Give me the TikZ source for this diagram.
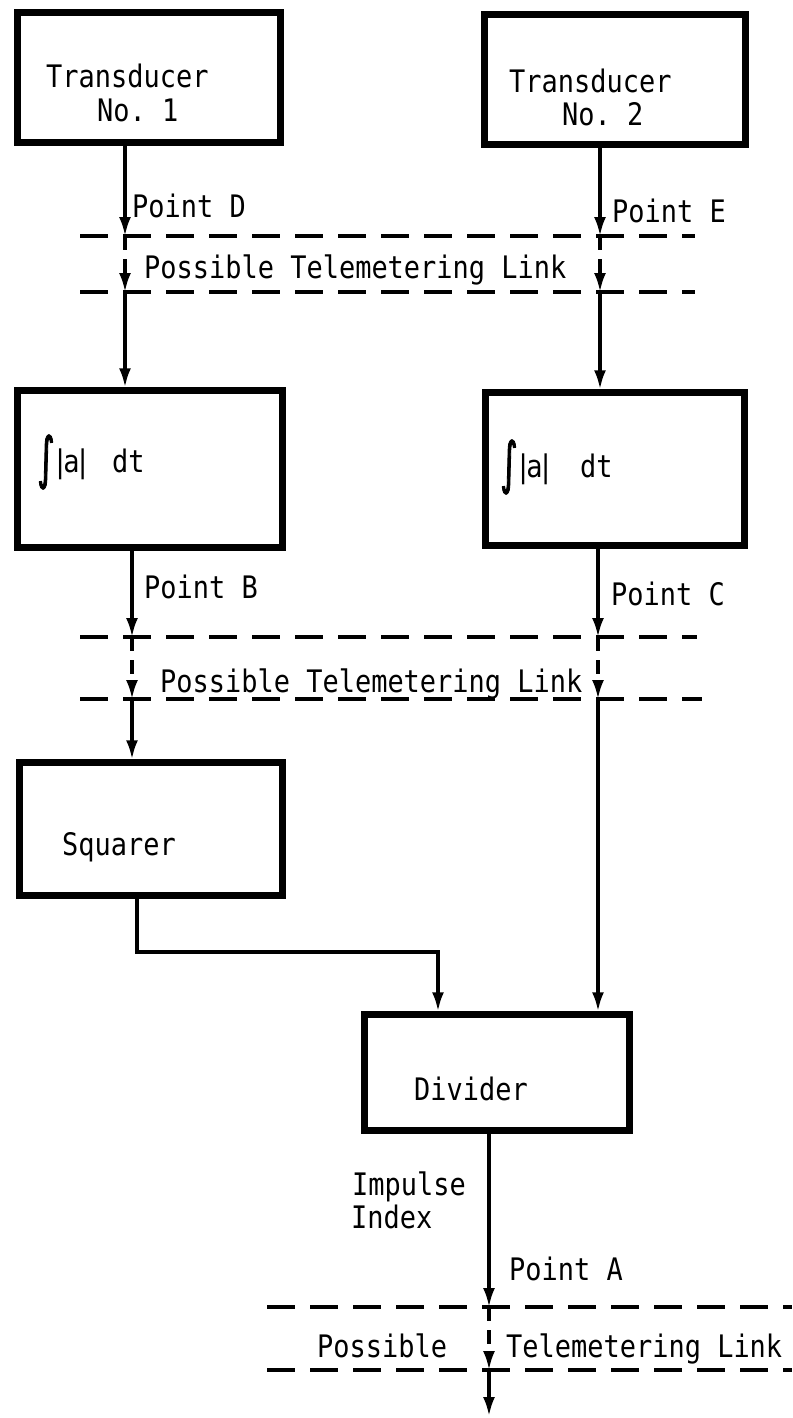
\documentclass[tikz,border=0pt]{standalone}
\usepackage{fontspec}
\usepackage{graphicx}
\setmonofont[FakeStretch=0.87]{DejaVu Sans Mono}
\newfontfamily\intfont[FakeBold=2.5]{DejaVu Sans}
\usetikzlibrary{arrows.meta}

\newcommand{\bigintegral}{\scalebox{1}[1.7]{\intfont\fontsize{33}{33}\selectfont ∫}}

\begin{document}
\begin{tikzpicture}[
  x=1pt, y={(0pt,-1pt)},
  box/.style={draw, line width=6.5pt, inner sep=0pt, fill=white},
  lbl/.style={anchor=base west, inner sep=0pt,
    font=\ttfamily\fontsize{31}{34}\selectfont},
  arr/.style={line width=3.2pt, -{Latex[length=19pt,width=12pt]}},
  link/.style={line width=3.5pt, dash pattern=on 28pt off 15pt},
  linkarr/.style={arr, dash pattern=on 14pt off 9pt},
]
\useasboundingbox (0,0) rectangle (792,1418);

% ---- block boxes ----
\node[box, minimum width=263pt, minimum height=130pt] (t1) at (149,77.5) {};
\node[box, minimum width=261pt, minimum height=130pt] (t2) at (615,79.5) {};
\node[box, minimum width=265pt, minimum height=157pt] (i1) at (150,469) {};
\node[box, minimum width=259pt, minimum height=153pt] (i2) at (615,469) {};
\node[box, minimum width=263pt, minimum height=133pt] (sq) at (151,829) {};
\node[box, minimum width=265pt, minimum height=116pt] (dv) at (497,1072.5) {};

% ---- box texts ----
\node[lbl] (t1a) at (46,88) {Transducer};
\node[lbl] (t1b) at (97,122) {No. 1};
\node[lbl] (t2a) at (509,93) {Transducer};
\node[lbl] (t2b) at (562,125) {No. 2};

\node[inner sep=0pt] (int1) at (46,462) {\bigintegral};
\node[lbl] (abs1) at (52,472) {|\kern-5pt a\kern-5pt|};
\node[lbl] (dt1) at (112,472) {dt};
\node[inner sep=0pt] (int2) at (509,467) {\bigintegral};
\node[lbl] (abs2) at (515,477) {|\kern-5pt a\kern-5pt|};
\node[lbl] (dt2) at (580,477) {dt};

\node[lbl] (sqt) at (62,855) {Squarer};
\node[lbl] (dvt) at (414,1100) {Divider};

% ---- point labels ----
\node[lbl] (pD) at (132,217) {Point D};
\node[lbl] (pE) at (612,222) {Point E};
\node[lbl] (pB) at (144,598) {Point B};
\node[lbl] (pC) at (611,605) {Point C};
\node[lbl] (pA) at (509,1280) {Point A};
\node[lbl] (imp) at (352,1195) {Impulse};
\node[lbl] (idx) at (351,1228) {Index};

% ---- telemetering link bands ----
\draw[link] (80,236) -- (695,236);
\draw[link] (80,292) -- (695,292);
\node[lbl] (tl1) at (144,278) {Possible Telemetering Link};

\draw[link] (80,637) -- (697,637);
\draw[link] (80,699) -- (702,699);
\node[lbl] (tl2) at (160,692) {Possible Telemetering Link};

\draw[link] (267,1307) -- (792,1307);
\draw[link] (267,1370) -- (792,1370);
\node[lbl] (tl3a) at (317,1357) {Possible};
\node[lbl] (tl3b) at (506,1357) {Telemetering Link};

% ---- connection points ----
\coordinate (a1) at (125,236);
\coordinate (a2) at (125,292);
\coordinate (b1) at (600,236);
\coordinate (b2) at (600,292);
\coordinate (c1) at (132,637);
\coordinate (c2) at (132,699);
\coordinate (e1) at (598,637);
\coordinate (e2) at (598,699);
\coordinate (g)  at (137,952);
\coordinate (h)  at (438,952);
\coordinate (f1) at (489,1307);
\coordinate (f2) at (489,1370);
\coordinate (f3) at (489,1416);

% ---- signal paths ----
\draw[arr] (t1.south -| a1) -- (a1);
\draw[linkarr] (a1) -- (a2);
\draw[arr] (a2) -- (i1.north -| a2);

\draw[arr] (t2.south -| b1) -- (b1);
\draw[linkarr] (b1) -- (b2);
\draw[arr] (b2) -- (i2.north -| b2);

\draw[arr] (i1.south -| c1) -- (c1);
\draw[linkarr] (c1) -- (c2);
\draw[arr] (c2) -- (sq.north -| c2);

\draw[arr] (i2.south -| e1) -- (e1);
\draw[linkarr] (e1) -- (e2);
\draw[arr] (e2) -- (dv.north -| e2);

\draw[arr] (sq.south -| g) -- (g) -- (h) -- (dv.north -| h);

\draw[arr] (dv.south -| f1) -- (f1);
\draw[linkarr] (f1) -- (f2);
\draw[arr] (f2) -- (f3);
\end{tikzpicture}
\end{document}
